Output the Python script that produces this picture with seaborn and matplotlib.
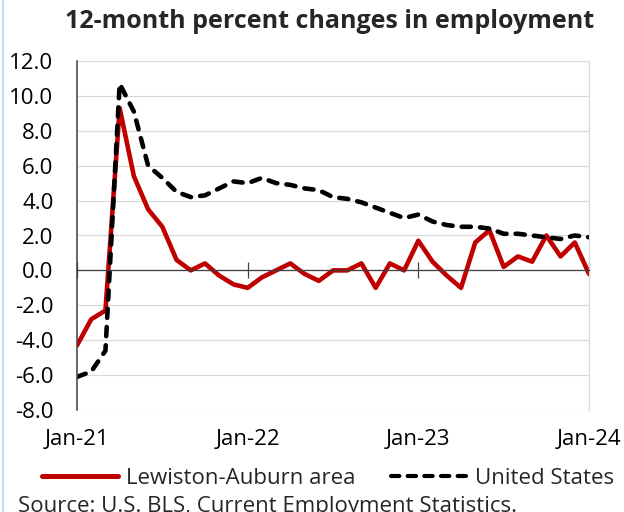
import numpy as np
import pandas as pd
import matplotlib
matplotlib.use("Agg")
import matplotlib.pyplot as plt
from matplotlib.lines import Line2D
import seaborn as sns

# Monthly index, Jan-21 .. Jan-24
months = list(range(37))
tick_positions = [0, 12, 24, 36]
tick_labels = ["Jan-21", "Jan-22", "Jan-23", "Jan-24"]

# 12-month percent change in employment
lewiston_auburn = [-4.3, -2.8, -2.3, 9.3, 5.4, 3.5, 2.5, 0.6, 0.0, 0.4, -0.3, -0.8,
                   -1.0, -0.4, 0.0, 0.4, -0.2, -0.6, 0.0, 0.0, 0.4, -1.0, 0.4, 0.0,
                   1.7, 0.5, -0.3, -1.0, 1.6, 2.3, 0.2, 0.8, 0.5, 2.0, 0.8, 1.6,
                   -0.2]
united_states = [-6.1, -5.8, -4.6, 10.7, 9.1, 6.0, 5.3, 4.5, 4.2, 4.3, 4.7, 5.1,
                 5.0, 5.3, 5.0, 4.9, 4.7, 4.6, 4.2, 4.1, 3.9, 3.6, 3.3, 3.0,
                 3.2, 2.8, 2.6, 2.5, 2.5, 2.4, 2.1, 2.1, 2.0, 1.9, 1.8, 2.0,
                 1.9]
series_names = ["Lewiston-Auburn area", "United States"]
y_ticks = [-8, -6, -4, -2, 0, 2, 4, 6, 8, 10, 12]

df = pd.DataFrame({
    "month": months * 2,
    "pct": lewiston_auburn + united_states,
    "series": [series_names[0]] * len(months) + [series_names[1]] * len(months),
})

sns.set_theme(style="white")
plt.rcParams["font.family"] = ["Open Sans", "DejaVu Sans"]

W, H = 624, 512
FS = 16
fig = plt.figure(figsize=(W / 100, H / 100), dpi=100)
ax = fig.add_axes([77 / W, 1 - 410 / H, (589 - 77) / W, (410 - 61) / H])

red = "#C00000"
sns.lineplot(data=df, x="month", y="pct", hue="series", style="series",
             hue_order=series_names, style_order=series_names,
             palette={series_names[0]: red, series_names[1]: "black"},
             dashes={series_names[0]: "", series_names[1]: (2, 2)},
             legend=False, ax=ax)
for ln, lw in zip(ax.lines, [3.3, 3.3]):
    ln.set_linewidth(lw)
    ln.set_solid_joinstyle("round")
    ln.set_dash_capstyle("round")
    ln.set_dash_joinstyle("round")

ax.set_xlim(0, 36)
ax.set_ylim(-8, 12)
ax.set_yticks(y_ticks)
ax.set_yticklabels([f"{v:.1f}" for v in y_ticks])
ax.yaxis.grid(True, color="#d9d9d9", linewidth=0.9)
ax.set_axisbelow(True)
ax.set_xlabel("")
ax.set_ylabel("")

# x axis line crosses at zero with year tick marks
ax.spines["bottom"].set_position(("data", 0))
ax.spines["bottom"].set_color("#404040")
ax.spines["bottom"].set_linewidth(0.9)
ax.set_xticks(tick_positions)
ax.tick_params(axis="x", direction="inout", length=12, width=0.9,
               color="#404040", labelbottom=False, bottom=True)
ax.spines["left"].set_color("#404040")
ax.spines["left"].set_linewidth(1.1)
ax.spines["right"].set_color("#d9d9d9")
ax.spines["right"].set_linewidth(0.9)
ax.spines["top"].set_visible(False)
ax.tick_params(axis="y", length=0, pad=17, labelsize=FS, labelcolor="black")

# date labels along the bottom edge
sec = ax.secondary_xaxis(0.0)
sec.set_xticks(tick_positions, tick_labels)
sec.tick_params(length=0, pad=14, labelsize=FS, labelcolor="black")
sec.spines["bottom"].set_visible(False)

fig.text(330 / W, 1 - 21 / H, "12-month percent changes in employment",
         ha="center", va="center", fontsize=18, fontweight="bold")

handles = [Line2D([], [], color=red, linewidth=3.6),
           Line2D([], [], color="black", linewidth=3.0, linestyle=(0, (2, 2)),
                  dash_capstyle="round")]
fig.legend(handles, series_names, loc="center", ncol=2,
           bbox_to_anchor=(328 / W, 1 - 478 / H), frameon=False,
           fontsize=FS, handlelength=3.4, handletextpad=0.36,
           columnspacing=1.6, borderpad=0, borderaxespad=0)

fig.text(18 / W, 1 - 496 / H, "Source: U.S. BLS, Current Employment Statistics.",
         ha="left", va="top", fontsize=FS)

# thin pale frame on the left edge
fig.add_artist(Line2D([3 / W, 3 / W], [0, 1], transform=fig.transFigure,
                      color="#c9daf0", linewidth=1.5))

fig.savefig("out.png", dpi=100)
